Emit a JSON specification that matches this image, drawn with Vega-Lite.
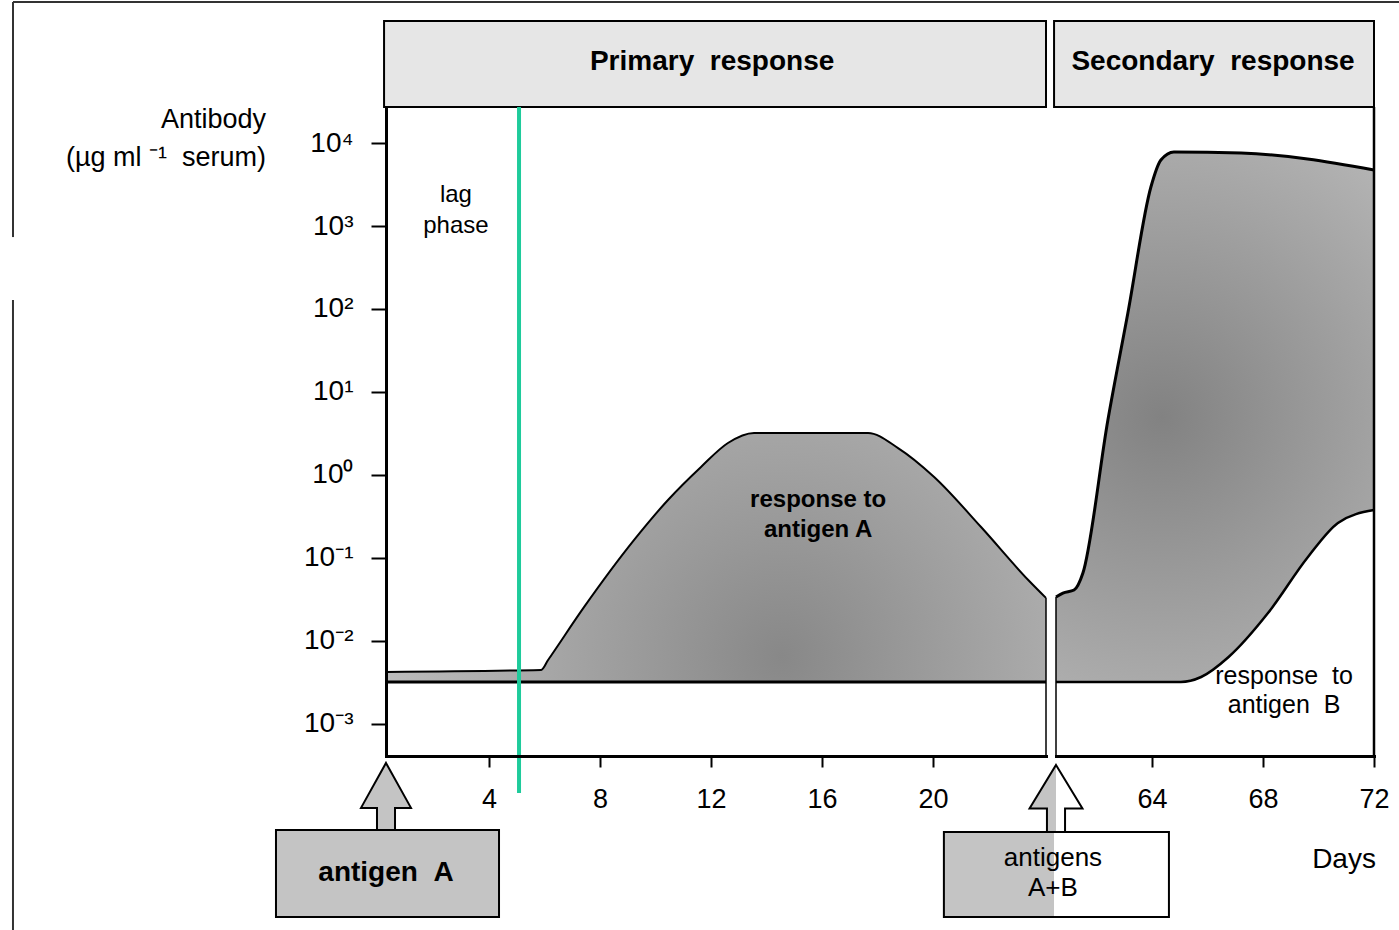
{
 "$schema": "https://vega.github.io/schema/vega-lite/v6.json",
 "background": "white",
 "padding": {"left": 11, "top": 1, "right": 0, "bottom": 0},
 "config": {"view": {"stroke": null}, "font": "Liberation Sans", "text": {"font": "Liberation Sans", "color": "black"}},
 "datasets": {
  "primary": [
   {"day": 0.29, "antibody": 0.00424},
   {"day": 5.88, "antibody": 0.00448},
   {"day": 6.13, "antibody": 0.0059},
   {"day": 7.43, "antibody": 0.0257},
   {"day": 9.23, "antibody": 0.165},
   {"day": 10.45, "antibody": 0.5},
   {"day": 11.64, "antibody": 1.25},
   {"day": 12.61, "antibody": 2.43},
   {"day": 13.55, "antibody": 3.21},
   {"day": 17.66, "antibody": 3.21},
   {"day": 18.74, "antibody": 2.11},
   {"day": 20.04, "antibody": 0.946},
   {"day": 21.73, "antibody": 0.236},
   {"day": 23.43, "antibody": 0.0543},
   {"day": 24.07, "antibody": 0.033}
  ],
  "outer": [
   {"day": 60.54, "antibody": 0.0339},
   {"day": 60.79, "antibody": 0.0378},
   {"day": 61.19, "antibody": 0.0411},
   {"day": 61.51, "antibody": 0.0659},
   {"day": 62.41, "antibody": 4.6},
   {"day": 63.13, "antibody": 89.5},
   {"day": 63.96, "antibody": 2951},
   {"day": 64.32, "antibody": 6237},
   {"day": 64.79, "antibody": 7800},
   {"day": 67.21, "antibody": 7586},
   {"day": 72, "antibody": 4732}
  ],
  "inner": [
   {"day": 60.54, "antibody": 0.0032},
   {"day": 65.04, "antibody": 0.0032},
   {"day": 65.77, "antibody": 0.00368},
   {"day": 66.76, "antibody": 0.00641},
   {"day": 68.18, "antibody": 0.0217},
   {"day": 69.62, "antibody": 0.1028},
   {"day": 70.7, "antibody": 0.264},
   {"day": 72, "antibody": 0.378}
  ],
  "panel1": [{"panel": "primary"}],
  "panel2": [{"panel": "secondary"}]
 },
 "spacing": 10,
 "bounds": "flush",
 "hconcat": [
  {
   "width": 660,
   "height": 649,
   "data": {"name": "panel1"},
   "layer": [
    {
     "data": {"name": "primary"},
     "mark": {"type": "area", "interpolate": "monotone", "fill": {"gradient": "radial", "x1": 0.6, "y1": 0.65, "x2": 0.6, "y2": 0.65, "r1": 0, "r2": 0.65, "stops": [{"offset": 0, "color": "#888888"}, {"offset": 1, "color": "#c0c0c0"}]}},
     "encoding": {
      "x": {"field": "day", "type": "quantitative", "scale": {"type": "linear", "domain": [0.29, 24.07], "nice": false, "zero": false},
            "axis": {"values": [4, 8, 12, 16, 20], "title": null, "grid": false, "domainWidth": 3, "domainColor": "black", "domainCap": "square", "tickColor": "black", "tickWidth": 2, "tickSize": 11, "labelFontSize": 27, "labelFont": "Liberation Sans", "labelColor": "black", "labelPadding": 19, "labelFlush": false, "zindex": 1}},
      "y": {"field": "antibody", "type": "quantitative", "scale": {"type": "log", "domain": [0.000411, 27164], "nice": false},
            "axis": {"values": [0.001, 0.01, 0.1, 1, 10, 100, 1000, 10000], "title": null, "grid": false, "domainWidth": 3, "domainColor": "black", "domainCap": "square", "tickColor": "black", "tickWidth": 2, "tickSize": 15, "labelFontSize": 28, "labelFont": "Liberation Sans", "labelColor": "black", "labelPadding": 18, "labelBaseline": "middle", "zindex": 1,
                     "labelExpr": "datum.value > 5000 ? '10⁴' : datum.value > 500 ? '10³' : datum.value > 50 ? '10²' : datum.value > 5 ? '10¹' : datum.value > 0.5 ? '10⁰' : datum.value > 0.05 ? '10⁻¹' : datum.value > 0.005 ? '10⁻²' : '10⁻³'"}},
      "y2": {"datum": 0.0032}
     }
    },
    {
     "data": {"name": "primary"},
     "mark": {"type": "line", "interpolate": "monotone", "color": "black", "strokeWidth": 2},
     "encoding": {
      "x": {"field": "day", "type": "quantitative"},
      "y": {"field": "antibody", "type": "quantitative"}
     }
    },
    {
     "mark": {"type": "rule", "color": "black", "strokeWidth": 3},
     "encoding": {
      "x": {"datum": 0.29, "type": "quantitative"},
      "x2": {"datum": 24.07},
      "y": {"datum": 0.0032, "type": "quantitative"}
     }
    },
    {
     "mark": {"type": "rule", "color": "black", "strokeWidth": 1.5},
     "encoding": {
      "x": {"datum": 24.07, "type": "quantitative"},
      "y": {"datum": 0.033, "type": "quantitative"},
      "y2": {"datum": 0.000411}
     }
    },
    {
     "mark": {"type": "rect", "fill": "#e6e6e6", "stroke": "black", "strokeWidth": 2},
     "encoding": {
      "x": {"datum": 0.22, "type": "quantitative"},
      "x2": {"datum": 24.07},
      "y": {"datum": 27164, "type": "quantitative"},
      "y2": {"datum": 295000}
     }
    },
    {
     "mark": {"type": "text", "fontWeight": "bold", "fontSize": 28, "align": "center", "baseline": "middle"},
     "encoding": {
      "x": {"datum": 12.04, "type": "quantitative"},
      "y": {"datum": 94600, "type": "quantitative"},
      "text": {"value": "Primary\u00a0\u00a0response"}
     }
    },
    {
     "mark": {"type": "text", "fontSize": 24, "align": "center", "baseline": "middle", "lineBreak": "\n", "lineHeight": 31},
     "encoding": {
      "x": {"datum": 2.81, "type": "quantitative"},
      "y": {"datum": 2363, "type": "quantitative"},
      "text": {"value": "lag\nphase"}
     }
    },
    {
     "mark": {"type": "text", "fontWeight": "bold", "fontSize": 24, "align": "center", "baseline": "middle", "lineBreak": "\n", "lineHeight": 30},
     "encoding": {
      "x": {"datum": 15.86, "type": "quantitative"},
      "y": {"datum": 0.5, "type": "quantitative"},
      "text": {"value": "response to\nantigen A"}
     }
    },
    {
     "mark": {"type": "text", "fontSize": 27, "align": "right", "baseline": "middle", "lineBreak": "\n", "lineHeight": 38},
     "encoding": {
      "x": {"datum": -4.03, "type": "quantitative"},
      "y": {"datum": 18930, "type": "quantitative"},
      "text": {"value": "Antibody\n(µg ml\u00a0⁻¹\u00a0\u00a0serum)"}
     }
    },
    {
     "mark": {"type": "rect", "fill": "#c4c4c4", "stroke": "black", "strokeWidth": 2},
     "encoding": {
      "x": {"datum": -3.674, "type": "quantitative"},
      "x2": {"datum": 4.362},
      "y": {"datum": 0.0000528, "type": "quantitative"},
      "y2": {"datum": 0.00000473}
     }
    },
    {
     "mark": {"type": "point", "filled": true, "fill": "#c4c4c4", "stroke": "black", "strokeWidth": 2, "opacity": 1, "size": 4489,
              "shape": "M0,-1 L0.746,0.343 L0.269,0.343 L0.269,1 L-0.269,1 L-0.269,0.343 L-0.746,0.343 Z"},
     "encoding": {
      "x": {"datum": 0.29, "type": "quantitative"},
      "y": {"datum": 0.000134, "type": "quantitative"}
     }
    },
    {
     "mark": {"type": "text", "fontWeight": "bold", "fontSize": 28, "align": "center", "baseline": "middle"},
     "encoding": {
      "x": {"datum": 0.29, "type": "quantitative"},
      "y": {"datum": 0.00001603, "type": "quantitative"},
      "text": {"value": "antigen\u00a0\u00a0A"}
     }
    },
    {
     "mark": {"type": "rule", "color": "#333333", "strokeWidth": 2},
     "encoding": {
      "x": {"datum": -13.15, "type": "quantitative"},
      "x2": {"datum": 36.83},
      "y": {"datum": 500000, "type": "quantitative"}
     }
    },
    {
     "mark": {"type": "rule", "color": "#333333", "strokeWidth": 2},
     "encoding": {
      "x": {"datum": -13.15, "type": "quantitative"},
      "y": {"datum": 500000, "type": "quantitative"},
      "y2": {"datum": 736}
     }
    },
    {
     "mark": {"type": "rule", "color": "#333333", "strokeWidth": 2},
     "encoding": {
      "x": {"datum": -13.15, "type": "quantitative"},
      "y": {"datum": 128, "type": "quantitative"},
      "y2": {"datum": 0.0000033}
     }
    },
    {
     "mark": {"type": "rule", "color": "#1ecb9b", "strokeWidth": 4},
     "encoding": {
      "x": {"datum": 5.083, "type": "quantitative"},
      "y": {"datum": 27164, "type": "quantitative"},
      "y2": {"datum": 0.0001476}
     }
    }
   ]
  },
  {
   "width": 318,
   "height": 649,
   "data": {"name": "panel2"},
   "layer": [
    {
     "data": {"name": "outer"},
     "mark": {"type": "area", "interpolate": "monotone", "fill": {"gradient": "radial", "x1": 0.4, "y1": 0.5, "x2": 0.4, "y2": 0.5, "r1": 0, "r2": 0.7, "stops": [{"offset": 0, "color": "#828282"}, {"offset": 1, "color": "#bababa"}]}},
     "encoding": {
      "x": {"field": "day", "type": "quantitative", "scale": {"type": "linear", "domain": [60.54, 72], "nice": false, "zero": false},
            "axis": {"values": [64, 68, 72], "title": null, "grid": false, "domainWidth": 3, "domainColor": "black", "domainCap": "square", "tickColor": "black", "tickWidth": 2, "tickSize": 11, "labelFontSize": 27, "labelFont": "Liberation Sans", "labelColor": "black", "labelPadding": 19, "labelFlush": false, "zindex": 1}},
      "y": {"field": "antibody", "type": "quantitative", "scale": {"type": "log", "domain": [0.000411, 27164], "nice": false}, "axis": null},
      "y2": {"datum": 0.0032}
     }
    },
    {
     "data": {"name": "inner"},
     "mark": {"type": "area", "interpolate": "monotone", "fill": "white"},
     "encoding": {
      "x": {"field": "day", "type": "quantitative"},
      "y": {"field": "antibody", "type": "quantitative"},
      "y2": {"datum": 0.0032}
     }
    },
    {
     "data": {"name": "outer"},
     "mark": {"type": "line", "interpolate": "monotone", "color": "black", "strokeWidth": 3},
     "encoding": {
      "x": {"field": "day", "type": "quantitative"},
      "y": {"field": "antibody", "type": "quantitative"}
     }
    },
    {
     "data": {"name": "inner"},
     "mark": {"type": "line", "interpolate": "monotone", "color": "black", "strokeWidth": 2.5},
     "encoding": {
      "x": {"field": "day", "type": "quantitative"},
      "y": {"field": "antibody", "type": "quantitative"}
     }
    },
    {
     "mark": {"type": "rule", "color": "black", "strokeWidth": 1.5},
     "encoding": {
      "x": {"datum": 60.54, "type": "quantitative"},
      "y": {"datum": 0.0339, "type": "quantitative"},
      "y2": {"datum": 0.000411}
     }
    },
    {
     "mark": {"type": "rule", "color": "black", "strokeWidth": 2.5},
     "encoding": {
      "x": {"datum": 72, "type": "quantitative"},
      "y": {"datum": 27164, "type": "quantitative"},
      "y2": {"datum": 0.000411}
     }
    },
    {
     "mark": {"type": "rect", "fill": "#e6e6e6", "stroke": "black", "strokeWidth": 2},
     "encoding": {
      "x": {"datum": 60.47, "type": "quantitative"},
      "x2": {"datum": 72},
      "y": {"datum": 27164, "type": "quantitative"},
      "y2": {"datum": 295000}
     }
    },
    {
     "mark": {"type": "text", "fontWeight": "bold", "fontSize": 28, "align": "center", "baseline": "middle"},
     "encoding": {
      "x": {"datum": 66.2, "type": "quantitative"},
      "y": {"datum": 94600, "type": "quantitative"},
      "text": {"value": "Secondary\u00a0\u00a0response"}
     }
    },
    {
     "mark": {"type": "text", "fontSize": 25, "align": "center", "baseline": "middle", "lineBreak": "\n", "lineHeight": 29},
     "encoding": {
      "x": {"datum": 68.76, "type": "quantitative"},
      "y": {"datum": 0.003784, "type": "quantitative"},
      "text": {"value": "response\u00a0\u00a0to\nantigen\u00a0\u00a0B"}
     }
    },
    {
     "mark": {"type": "rect", "fill": {"gradient": "linear", "x1": 0, "y1": 0, "x2": 1, "y2": 0, "stops": [{"offset": 0, "color": "#c4c4c4"}, {"offset": 0.489, "color": "#c4c4c4"}, {"offset": 0.489, "color": "white"}, {"offset": 1, "color": "white"}]}, "stroke": "black", "strokeWidth": 2},
     "encoding": {
      "x": {"datum": 56.5, "type": "quantitative"},
      "x2": {"datum": 64.61},
      "y": {"datum": 0.00005, "type": "quantitative"},
      "y2": {"datum": 0.00000473}
     }
    },
    {
     "mark": {"type": "point", "filled": true, "fill": {"gradient": "linear", "x1": 0, "y1": 0, "x2": 1, "y2": 0, "stops": [{"offset": 0, "color": "#c4c4c4"}, {"offset": 0.5, "color": "#c4c4c4"}, {"offset": 0.5, "color": "white"}, {"offset": 1, "color": "white"}]}, "stroke": "black", "strokeWidth": 2, "opacity": 1, "size": 4489,
              "shape": "M0,-1 L0.79,0.3 L0.27,0.3 L0.27,1 L-0.27,1 L-0.27,0.3 L-0.79,0.3 Z"},
     "encoding": {
      "x": {"datum": 60.54, "type": "quantitative"},
      "y": {"datum": 0.0001265, "type": "quantitative"}
     }
    },
    {
     "mark": {"type": "text", "fontSize": 26, "align": "center", "baseline": "middle", "lineBreak": "\n", "lineHeight": 30},
     "encoding": {
      "x": {"datum": 60.43, "type": "quantitative"},
      "y": {"datum": 0.0000243, "type": "quantitative"},
      "text": {"value": "antigens\nA+B"}
     }
    },
    {
     "mark": {"type": "text", "fontSize": 28, "align": "center", "baseline": "middle"},
     "encoding": {
      "x": {"datum": 70.92, "type": "quantitative"},
      "y": {"datum": 0.00002296, "type": "quantitative"},
      "text": {"value": "Days"}
     }
    }
   ]
  }
 ]
}
